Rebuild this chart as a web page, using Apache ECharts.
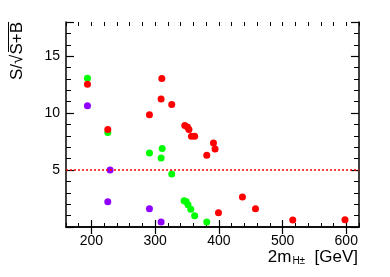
<!DOCTYPE html>
<html><head><meta charset="utf-8">
<script src="https://cdn.jsdelivr.net/npm/echarts@6/dist/echarts.min.js"></script>
<style>html,body{margin:0;padding:0;background:#fff}#c{width:390px;height:277px}</style>
</head><body><div id="c"></div>
<script>
const redX = [193.7, 310.4, 309.3, 326, 291, 225.6, 346.5, 350.7, 353, 357, 362, 381, 391.5, 394, 399.4, 437, 457.5, 516, 598];
const redY = [12.54, 13.04, 11.23, 10.76, 9.85, 8.57, 8.92, 8.77, 8.57, 7.96, 7.96, 6.29, 7.37, 6.84, 1.26, 2.63, 1.61, 0.61, 0.64];
const greenX = [193.7, 225.6, 291, 311, 309.3, 326, 345.4, 348.5, 351.6, 355.9, 362, 381];
const greenY = [13.07, 8.3, 6.49, 6.9, 6.05, 4.65, 2.31, 2.25, 1.96, 1.55, 0.99, 0.44];
const purpleX = [193.7, 229.2, 225.6, 291, 309.3];
const purpleY = [10.64, 5.0, 2.22, 1.61, 0.44];
const xTickLabels = [200, 300, 400, 500, 600];
const refLine = 5;
const xMin = 160, xMax = 620, xMinorStep = 20;
const yMin = 0, yMax = 18, yStep = 5;

const font = 'Liberation Sans, Arial, sans-serif';
function pts(xs, ys){ return xs.map((x,i)=>[x, ys[i]]); }
const axisLine = {show:true, lineStyle:{color:'#000', width:1.5}};
function xMain(pos, showLabels){
  return {type:'value', position:pos, min:xMin, max:xMax,
    axisLine:axisLine,
    axisTick:{show:true, inside:true, length:7, customValues:xTickLabels, lineStyle:{color:'#000', width:1.2}},
    axisLabel:{show:showLabels, color:'#000', fontSize:14, fontFamily:font, margin:7, customValues:xTickLabels},
    splitLine:{show:false}};
}
function xMinor(pos){
  return {type:'value', position:pos, min:xMin, max:xMax, interval:xMinorStep,
    axisLine:{show:false},
    axisTick:{show:true, inside:true, length:4, lineStyle:{color:'#000', width:1}},
    axisLabel:{show:false}, splitLine:{show:false}};
}
function ya(pos, showLabels){
  return {type:'value', position:pos, min:yMin, max:yMax, interval:yStep,
    axisLine:axisLine,
    axisTick:{show:true, inside:true, length:8, lineStyle:{color:'#000', width:1.2}},
    minorTick:{show:true, splitNumber:5, length:5, lineStyle:{color:'#000', width:1}},
    axisLabel:{show:showLabels, color:'#000', fontSize:14, fontFamily:font, margin:6,
      showMaxLabel:false, showMinLabel:false},
    splitLine:{show:false}, minorSplitLine:{show:false}};
}
const chart = echarts.init(document.getElementById('c'), null, {renderer:'canvas'});
chart.setOption({
  animation:false,
  backgroundColor:'#fff',
  grid:{left:66, right:31, top:22, bottom:50},
  xAxis:[xMain('bottom', true), xMain('top', false), xMinor('bottom'), xMinor('top')],
  yAxis:[ya('left', true), ya('right', false)],
  series:[
    {type:'scatter', data:pts(greenX, greenY), symbolSize:7, itemStyle:{color:'#00ff00', opacity:1}},
    {type:'scatter', data:pts(purpleX, purpleY), symbolSize:7, itemStyle:{color:'#9000ff', opacity:1}},
    {type:'scatter', data:pts(redX, redY), symbolSize:7, itemStyle:{color:'#ff0000', opacity:1},
      markLine:{silent:true, symbol:'none', label:{show:false},
        lineStyle:{color:'#ff0000', type:[2,2], width:1.5},
        data:[{yAxis:refLine}]}}
  ],
  graphic:[
    {type:'text', x:358, y:266, style:{
      text:'{a|2m}{s|H±}{a|  [GeV]}', align:'right', verticalAlign:'bottom',
      rich:{a:{fontSize:17, fontFamily:font, fill:'#000'},
            s:{fontSize:10, fontFamily:font, fill:'#000', verticalAlign:'bottom', padding:[0,0,0,1], lineHeight:14}}}},
    {type:'text', x:17, y:22, rotation:Math.PI/2, style:{
      text:'S/√S+B', align:'right', verticalAlign:'middle', fontSize:17, fontFamily:font, fill:'#000'}},
    {type:'line', shape:{x1:8.5, y1:22, x2:8.5, y2:52}, style:{stroke:'#000', lineWidth:1}}
  ]
});
</script></body></html>
